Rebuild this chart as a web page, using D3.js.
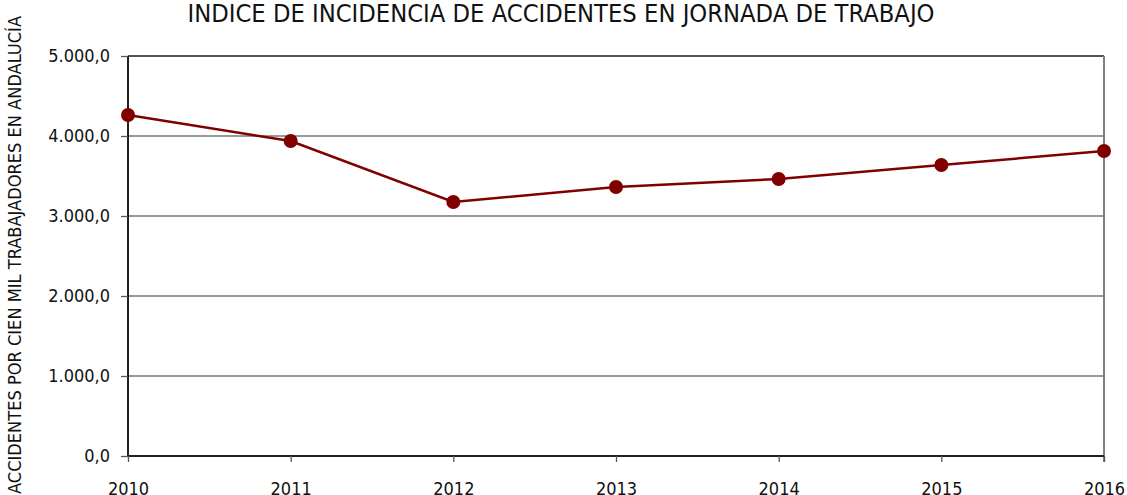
<!DOCTYPE html>
<html>
<head>
<meta charset="utf-8">
<script src="https://cdn.jsdelivr.net/npm/d3@7"></script>
<style>
  body { margin: 0; background: #fff; }
  svg text { font-family: "Liberation Sans Narrow", "DejaVu Sans Condensed", "Liberation Sans", sans-serif; fill: #111; }
</style>
</head>
<body>
<div id="chart"></div>
<script>
const years = ["2010", "2011", "2012", "2013", "2014", "2015", "2016"];
const values = [4262, 3937, 3175, 3362, 3462, 3637, 3812];
const yTicks = [0, 1000, 2000, 3000, 4000, 5000];
const title = "INDICE DE INCIDENCIA DE ACCIDENTES EN JORNADA DE TRABAJO";
const yLabel = "ACCIDENTES POR CIEN MIL TRABAJADORES EN ANDALUCÍA";

const width = 1127, height = 495;
const margin = {top: 56, right: 23, bottom: 39, left: 128};
const w = width - margin.left - margin.right;
const h = height - margin.top - margin.bottom;

const fmt = d => d3.format(",.1f")(d).replace(/,/g, "#").replace(/\./g, ",").replace(/#/g, ".");

const svg = d3.select("#chart").append("svg")
    .attr("width", width)
    .attr("height", height);

const g = svg.append("g")
    .attr("transform", `translate(${margin.left}, ${margin.top})`);

const x = d3.scalePoint().domain(years).range([0, w]);
const y = d3.scaleLinear().domain([0, 5000]).range([h, 0]);

// grid lines
g.selectAll(".grid")
    .data(yTicks.filter(d => d > 0))
    .enter().append("line")
    .attr("class", "grid")
    .attr("x1", 0).attr("x2", w)
    .attr("y1", d => y(d)).attr("y2", d => y(d))
    .style("stroke", d => d === 5000 ? "#555" : "#777")
    .style("stroke-width", d => d === 5000 ? 2 : 1.3);

// right border
g.append("line")
    .attr("x1", w).attr("x2", w)
    .attr("y1", 0).attr("y2", h + 6)
    .style("stroke", "#808080")
    .style("stroke-width", 2);

// y axis
const yAxis = g.append("g")
    .attr("class", "y axis")
    .call(d3.axisLeft(y).tickValues(yTicks).tickFormat(fmt).tickSize(7).tickPadding(11));
yAxis.select(".domain").style("stroke", "#222").style("stroke-width", 2).attr("d", `M0,${h}V0`);
yAxis.selectAll(".tick line").style("stroke", "#555").style("stroke-width", 1.3);
yAxis.selectAll("text").style("font-size", "18px").style("fill", "#111");

// x axis
const xAxis = g.append("g")
    .attr("class", "x axis")
    .attr("transform", `translate(0, ${h})`)
    .call(d3.axisBottom(x).tickSize(6).tickPadding(20));
xAxis.select(".domain").style("stroke", "#222").style("stroke-width", 2).attr("d", `M0,0H${w}`);
xAxis.selectAll(".tick line").style("stroke", "#555").style("stroke-width", 1.3);
xAxis.selectAll("text").style("font-size", "18px").style("fill", "#111");

// line
const line = d3.line()
    .x((d, i) => x(years[i]))
    .y(d => y(d));

g.append("path")
    .attr("d", line(values))
    .style("fill", "none")
    .style("stroke", "#800000")
    .style("stroke-width", 2.5);

g.selectAll(".dot")
    .data(values)
    .enter().append("circle")
    .attr("class", "dot")
    .attr("r", 7)
    .attr("cx", (d, i) => x(years[i]))
    .attr("cy", d => y(d))
    .style("fill", "#800000");

// title
svg.append("text")
    .attr("x", 561)
    .attr("y", 22)
    .attr("text-anchor", "middle")
    .attr("textLength", 747)
    .attr("lengthAdjust", "spacingAndGlyphs")
    .style("font-size", "24px")
    .text(title);

// y label
svg.append("text")
    .attr("transform", `translate(21, 255) rotate(-90)`)
    .attr("text-anchor", "middle")
    .attr("textLength", 478)
    .attr("lengthAdjust", "spacingAndGlyphs")
    .style("font-size", "18px")
    .text(yLabel);
</script>
</body>
</html>
